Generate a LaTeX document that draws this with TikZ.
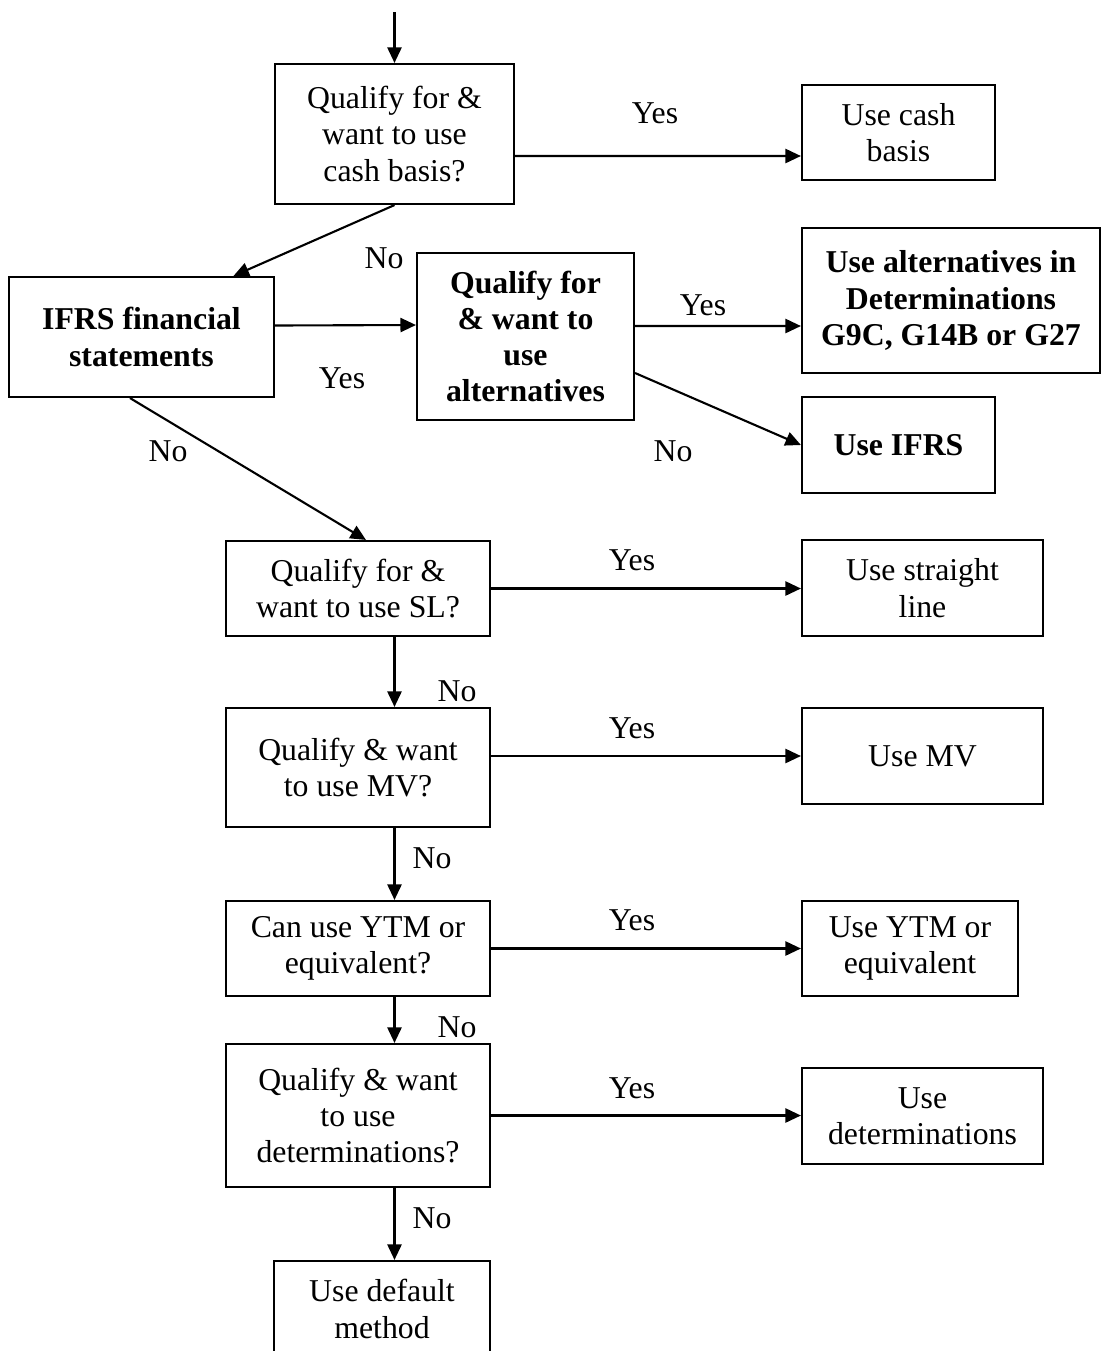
\documentclass[tikz,border=0pt]{standalone}
\usepackage{fontspec}
\setmainfont{Liberation Serif}
\usetikzlibrary{positioning,calc,arrows.meta}

\begin{document}
\begin{tikzpicture}[x=0.025cm,y=-0.025cm,
    txt/.style={font=\fontsize{22.6}{25.8}\selectfont},
    box/.style={txt, draw, line width=1.5pt, align=center, inner sep=0pt},
    bbox/.style={box, font=\fontsize{22.6}{25.8}\selectfont\bfseries},
    wh/.style 2 args={minimum width=#1*0.025cm, minimum height=#2*0.025cm},
    lbl/.style={txt, inner sep=0pt},
    arr/.style={line width=1.5pt, -{Triangle[length=11pt,width=10pt]}}]
    \useasboundingbox (0,0) rectangle (1102,1351);

    % decision boxes
    \node[box, wh={239}{140}] (cash) at (394.5,134) {Qualify for \&\\want to use\\cash basis?};
    \node[bbox, wh={265}{120}] (ifrs) at (141.5,337) {IFRS financial\\statements};
    \node[bbox, wh={217}{167}] (alt) at (525.5,336.5) {Qualify for\\\& want to\\use\\alternatives};
    \node[box, wh={264}{95}] (sl) at (358,588.5) {Qualify for \&\\want to use SL?};
    \node[box, wh={264}{119}] (mv) at (358,767.5) {Qualify \& want\\to use MV?};
    \node[box, wh={264}{95}] (ytm) at (358,948.5) {Can use YTM or\\equivalent?};
    \node[box, wh={264}{143}] (det) at (358,1115.5) {Qualify \& want\\to use\\determinations?};

    % outcome boxes
    \node[box, wh={193}{95}] (usecash) at (898.5,132.5) {Use cash\\basis};
    \node[bbox, wh={298}{145}] (usealt) at (951,300.5) {Use alternatives in\\Determinations\\G9C, G14B or G27};
    \node[bbox, wh={193}{96}] (useifrs) at (898.5,445) {Use IFRS};
    \node[box, wh={241}{96}] (usesl) at (922.5,588) {Use straight\\line};
    \node[box, wh={241}{96}] (usemv) at (922.5,756) {Use MV};
    \node[box, wh={216}{95}] (useytm) at (910,948.5) {Use YTM or\\equivalent};
    \node[box, wh={241}{96}] (usedet) at (922.5,1116) {Use\\determinations};
    \node[box, wh={216}{96}] (default) at (382,1309) {Use default\\method};

    % connectors
    \coordinate (start) at (394.5,12);
    \draw[arr] (start) -- (cash.north);
    \draw[arr] ($(cash.east)+(0,22)$) -- ($(usecash.west)+(0,23.5)$);
    \draw[arr] (cash.south) -- ($(ifrs.north)+(92,0)$);
    \draw[arr] ($(ifrs.east)+(0,-11.5)$) -- ($(alt.west)+(0,-11.5)$);
    \draw[arr] ($(alt.east)+(0,-10.5)$) -- ($(usealt.west)+(0,25.5)$);
    \draw[arr] ($(alt.east)+(0,36.5)$) -- (useifrs.west);
    \draw[arr] ($(ifrs.south)+(-11.5,0)$) -- ($(sl.north)+(8,0)$);
    \draw[arr] (sl.east) -- (sl.east -| usesl.west);
    \draw[arr] (sl.south -| cash) -- (mv.north -| cash);
    \draw[arr] (usemv.west -| mv.east) -- (usemv.west);
    \draw[arr] (mv.south -| cash) -- (ytm.north -| cash);
    \draw[arr] (ytm.east) -- (ytm.east -| useytm.west);
    \draw[arr] (ytm.south -| cash) -- (det.north -| cash);
    \draw[arr] (det.east) -- (det.east -| usedet.west);
    \draw[arr] (det.south -| cash) -- (default.north -| cash);

    % labels
    \node[lbl] (y1) at (655,113) {Yes};
    \node[lbl] (n1) at (384,258) {No};
    \node[lbl] (y2) at (342,378) {Yes};
    \node[lbl] (y3) at (703,305) {Yes};
    \node[lbl] (n2) at (673,451) {No};
    \node[lbl] (n3) at (168,451) {No};
    \node[lbl] (y4) at (632,560) {Yes};
    \node[lbl] (n4) at (457,691) {No};
    \node[lbl] (y5) at (632,728) {Yes};
    \node[lbl] (n5) at (432,858) {No};
    \node[lbl] (y6) at (632,920) {Yes};
    \node[lbl] (n6) at (457,1027) {No};
    \node[lbl] (y7) at (632,1088) {Yes};
    \node[lbl] (n7) at (432,1218) {No};
\end{tikzpicture}
\end{document}
